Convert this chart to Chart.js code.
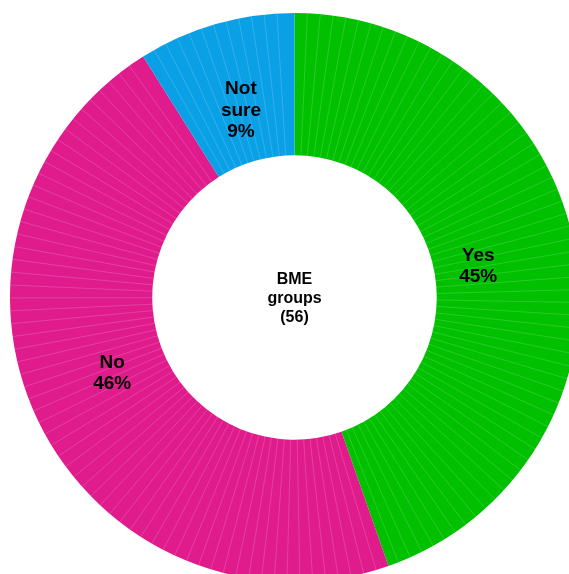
<!DOCTYPE html>
<html>
<head>
<meta charset="utf-8">
<script src="https://cdn.jsdelivr.net/npm/chart.js@4/dist/chart.umd.min.js"></script>
<style>
  html, body { margin: 0; padding: 0; background: #ffffff; overflow: hidden; width: 569px; height: 574px; }
  #wrap { position: absolute; left: 10px; top: 13px; width: 569px; height: 569px; }
</style>
</head>
<body>
<div id="wrap"><canvas id="c" width="569" height="569"></canvas></div>
<script>
// Survey answers for BME groups
const categories = ["Yes", "No", "Not sure"];
const counts = [25, 26, 5];
const colors = ["#00c000", "#e01b8c", "#0aa0e6"];
const centerTitle = ["BME", "groups"];

const total = counts.reduce((a, b) => a + b, 0);
const percents = counts.map(v => Math.round(v / total * 100) + "%");

const FONT = '"Liberation Sans", Arial, Helvetica, sans-serif';
// small hand adjustments of each label block, in pixels
const labelNudge = [[-7, 0], [-8, -9], [0, -2]];

// Fine light radial hairlines across each ring segment
const hairlines = {
  id: "hairlines",
  afterDatasetDraw(chart) {
    const meta = chart.getDatasetMeta(0);
    const ctx = chart.ctx;
    const step = 2.6 * Math.PI / 180;
    ctx.save();
    ctx.strokeStyle = "rgba(255,255,255,0.28)";
    ctx.lineWidth = 0.6;
    meta.data.forEach(arc => {
      const { x, y, startAngle, endAngle, innerRadius, outerRadius } = arc.getProps(
        ["x", "y", "startAngle", "endAngle", "innerRadius", "outerRadius"], true);
      for (let a = startAngle + step; a < endAngle - step * 0.5; a += step) {
        const c = Math.cos(a), s = Math.sin(a);
        ctx.beginPath();
        ctx.moveTo(x + c * innerRadius, y + s * innerRadius);
        ctx.lineTo(x + c * outerRadius, y + s * outerRadius);
        ctx.stroke();
      }
    });
    ctx.restore();
  }
};

// Category names and percentages inside the ring, total in the hole
const ringLabels = {
  id: "ringLabels",
  afterDraw(chart) {
    const meta = chart.getDatasetMeta(0);
    const ctx = chart.ctx;
    ctx.save();
    ctx.fillStyle = "#000000";
    ctx.textAlign = "center";
    ctx.textBaseline = "middle";
    ctx.font = "bold 19px " + FONT;
    meta.data.forEach((arc, i) => {
      const { x, y, startAngle, endAngle, innerRadius, outerRadius } = arc.getProps(
        ["x", "y", "startAngle", "endAngle", "innerRadius", "outerRadius"], true);
      const mid = (startAngle + endAngle) / 2;
      const r = innerRadius + (outerRadius - innerRadius) * 0.36;
      const lx = x + Math.cos(mid) * r + labelNudge[i][0];
      const ly = y + Math.sin(mid) * r + labelNudge[i][1];
      const lines = categories[i].split(" ").concat([percents[i]]);
      const lh = 21.5;
      lines.forEach((t, k) => {
        ctx.fillText(t, lx, ly + (k - (lines.length - 1) / 2) * lh + 1);
      });
    });
    const a0 = meta.data[0];
    const cl = centerTitle.concat(["(" + total + ")"]);
    ctx.font = "bold 16px " + FONT;
    cl.forEach((t, k) => {
      ctx.fillText(t, a0.x, a0.y + (k - (cl.length - 1) / 2) * 19 + 1);
    });
    ctx.restore();
  }
};

new Chart(document.getElementById("c"), {
  type: "doughnut",
  data: {
    labels: categories,
    datasets: [{
      data: counts,
      backgroundColor: colors,
      borderWidth: 0
    }]
  },
  options: {
    responsive: false,
    devicePixelRatio: 1,
    animation: false,
    cutout: "50%",
    layout: { padding: 0 },
    plugins: {
      legend: { display: false },
      tooltip: { enabled: false }
    }
  },
  plugins: [hairlines, ringLabels]
});
</script>
</body>
</html>
